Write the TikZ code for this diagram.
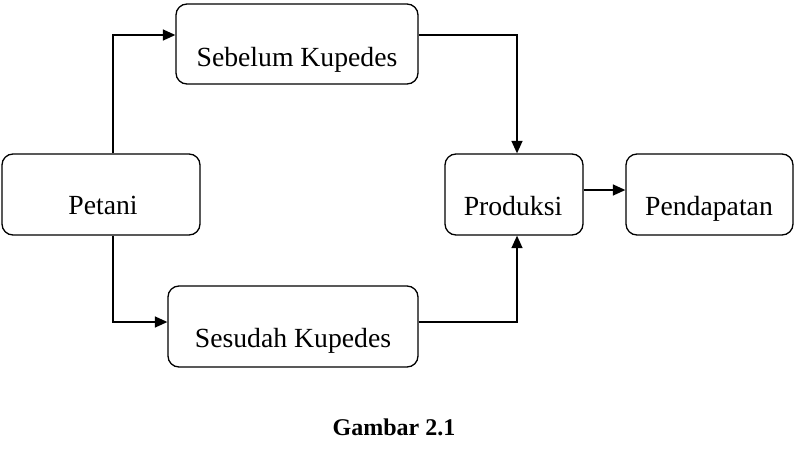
\documentclass[tikz,border=0pt]{standalone}
\usepackage{fontspec}
\setmainfont{Liberation Serif}
\usetikzlibrary{arrows.meta}
\begin{document}
\begin{tikzpicture}[x=1pt,y=-1pt,
  box/.style={draw,line width=1.3pt,rounded corners=11pt,inner sep=0pt},
  lbl/.style={anchor=base,inner sep=0pt,font=\fontsize{27.7}{30}\selectfont},
  conn/.style={line width=1.5pt,-{Triangle[length=12.5pt,width=11pt]}}]
\useasboundingbox (0,0) rectangle (800,458);
% boxes
\node[box,minimum width=242pt,minimum height=80pt] (seb) at (297,44) {};
\node[box,minimum width=198pt,minimum height=81pt] (pet) at (101,194.5) {};
\node[box,minimum width=138pt,minimum height=81pt] (pro) at (514,194.5) {};
\node[box,minimum width=167pt,minimum height=81pt] (pen) at (709.5,194.5) {};
\node[box,minimum width=250pt,minimum height=81pt] (ses) at (293,326.5) {};
% labels
\node[lbl] (sebt) at (297,66) {Sebelum Kupedes};
\node[lbl] (pett) at (103,214) {Petani};
\node[lbl] (prot) at (513,215) {Produksi};
\node[lbl] (pent) at (709,215) {Pendapatan};
\node[lbl] (sest) at (293,347) {Sesudah Kupedes};
\node[anchor=base,inner sep=0pt,font=\fontsize{24}{26}\selectfont\bfseries] (cap) at (394,435) {Gambar 2.1};
% connectors
\draw[conn] (pet.north -| 113,0) |- (seb.west |- 0,35);
\draw[conn] (pet.south -| 113,0) |- (ses.west |- 0,322);
\draw[conn] (seb.east |- 0,35) -| (pro.north -| 517,0);
\draw[conn] (ses.east |- 0,322) -| (pro.south -| 517,0);
\draw[conn] (pro.east |- 0,190) -- (pen.west |- 0,190);
\end{tikzpicture}
\end{document}
